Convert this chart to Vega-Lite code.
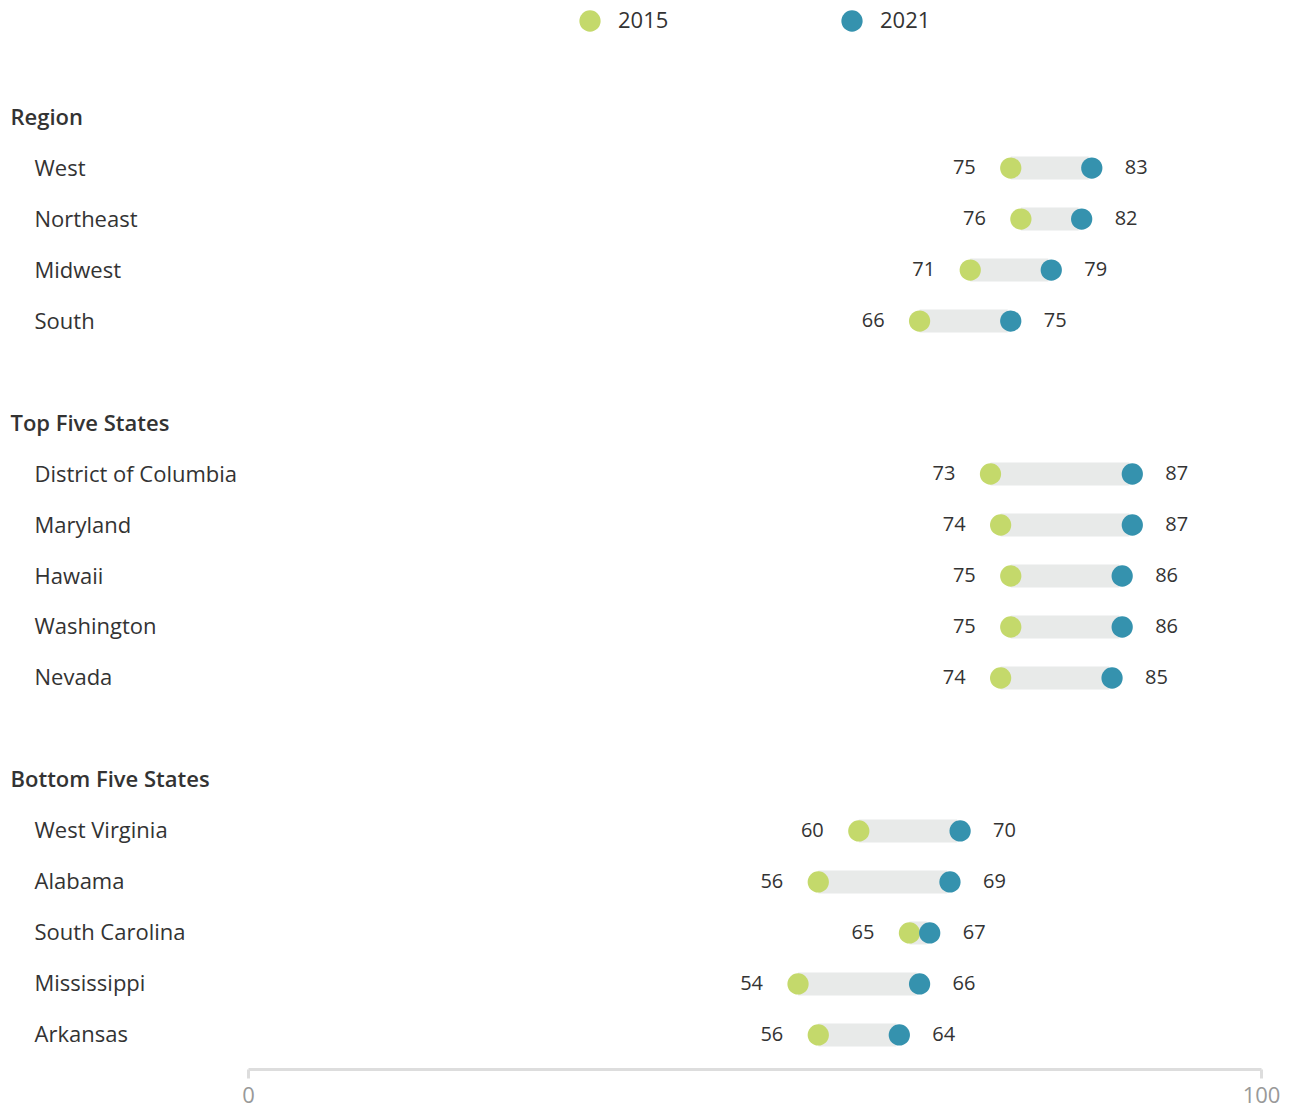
{
  "$schema": "https://vega.github.io/schema/vega-lite/v6.json",
  "width": 1013,
  "height": 986,
  "padding": {"left": 10, "top": 10, "right": 0, "bottom": 0},
  "config": {
    "view": {"stroke": null},
    "font": "Open Sans"
  },
  "data": {
    "values": [
      {"name": "West", "2015": 75, "2021": 83},
      {"name": "Northeast", "2015": 76, "2021": 82},
      {"name": "Midwest", "2015": 71, "2021": 79},
      {"name": "South", "2015": 66, "2021": 75},
      {"name": "District of Columbia", "2015": 73, "2021": 87},
      {"name": "Maryland", "2015": 74, "2021": 87},
      {"name": "Hawaii", "2015": 75, "2021": 86},
      {"name": "Washington", "2015": 75, "2021": 86},
      {"name": "Nevada", "2015": 74, "2021": 85},
      {"name": "West Virginia", "2015": 60, "2021": 70},
      {"name": "Alabama", "2015": 56, "2021": 69},
      {"name": "South Carolina", "2015": 65, "2021": 67},
      {"name": "Mississippi", "2015": 54, "2021": 66},
      {"name": "Arkansas", "2015": 56, "2021": 64}
    ]
  },
  "encoding": {
    "y": {
      "field": "name",
      "type": "nominal",
      "title": null,
      "scale": {
        "type": "point",
        "padding": 0.667,
        "domain": ["Region", "West", "Northeast", "Midwest", "South", "_1", "Top Five States", "District of Columbia", "Maryland", "Hawaii", "Washington", "Nevada", "_2", "Bottom Five States", "West Virginia", "Alabama", "South Carolina", "Mississippi", "Arkansas"]
      },
      "axis": {
        "grid": false,
        "domain": false,
        "ticks": false,
        "tickSize": 0,
        "labelAlign": "left",
        "labelBaseline": "middle",
        "labelLimit": 400,
        "labelFontSize": 22,
        "labelColor": "#333333",
        "labelExpr": "indexof(datum.value, '_') == 0 ? '' : datum.value",
        "labelFontWeight": {
          "condition": {"test": "indexof(['Region', 'Top Five States', 'Bottom Five States'], datum.value) >= 0", "value": 600},
          "value": "normal"
        },
        "labelPadding": {
          "condition": {"test": "indexof(['Region', 'Top Five States', 'Bottom Five States'], datum.value) >= 0", "value": 238},
          "value": 214
        }
      }
    }
  },
  "layer": [
    {
      "mark": {"type": "bar", "height": 23, "color": "#e8eae9", "xOffset": 3},
      "encoding": {
        "x": {
          "field": "2015",
          "type": "quantitative",
          "title": null,
          "scale": {"domain": [0, 100], "nice": false},
          "axis": {
            "values": [0, 100],
            "grid": false,
            "domainColor": "#dddddd",
            "domainWidth": 3,
            "tickColor": "#dddddd",
            "tickWidth": 3,
            "tickSize": 9,
            "labelFontSize": 22,
            "labelColor": "#999999",
            "labelPadding": 7,
            "labelFlush": false
          }
        },
        "x2": {"field": "2021"}
      }
    },
    {
      "transform": [{"fold": ["2015", "2021"], "as": ["year", "value"]}],
      "mark": {"type": "circle", "size": 452, "opacity": 1, "xOffset": 3},
      "encoding": {
        "x": {"field": "value", "type": "quantitative", "title": null, "axis": {"values": [0, 100], "grid": false, "domainColor": "#dddddd", "domainWidth": 3, "tickColor": "#dddddd", "tickWidth": 3, "tickSize": 9, "labelFontSize": 22, "labelColor": "#999999", "labelPadding": 7, "labelFlush": false}},
        "color": {
          "field": "year",
          "type": "nominal",
          "scale": {"domain": ["2015", "2021"], "range": ["#c4d96b", "#3592ae"]},
          "legend": {
            "title": null,
            "orient": "none",
            "legendX": 331,
            "legendY": -73,
            "direction": "horizontal",
            "symbolType": "circle",
            "symbolSize": 452,
            "symbolStrokeWidth": 0,
            "symbolOpacity": 1,
            "labelFontSize": 22,
            "labelColor": "#333333",
            "labelOffset": 17,
            "columnPadding": 172
          }
        }
      }
    },
    {
      "mark": {"type": "text", "align": "right", "baseline": "middle", "dx": -35, "xOffset": 3, "fontSize": 20, "color": "#333333"},
      "encoding": {
        "x": {"field": "2015", "type": "quantitative", "title": null, "axis": {"values": [0, 100], "grid": false, "domainColor": "#dddddd", "domainWidth": 3, "tickColor": "#dddddd", "tickWidth": 3, "tickSize": 9, "labelFontSize": 22, "labelColor": "#999999", "labelPadding": 7, "labelFlush": false}},
        "text": {"field": "2015", "type": "quantitative"}
      }
    },
    {
      "mark": {"type": "text", "align": "left", "baseline": "middle", "dx": 33, "xOffset": 3, "fontSize": 20, "color": "#333333"},
      "encoding": {
        "x": {"field": "2021", "type": "quantitative", "title": null, "axis": {"values": [0, 100], "grid": false, "domainColor": "#dddddd", "domainWidth": 3, "tickColor": "#dddddd", "tickWidth": 3, "tickSize": 9, "labelFontSize": 22, "labelColor": "#999999", "labelPadding": 7, "labelFlush": false}},
        "text": {"field": "2021", "type": "quantitative"}
      }
    }
  ]
}
